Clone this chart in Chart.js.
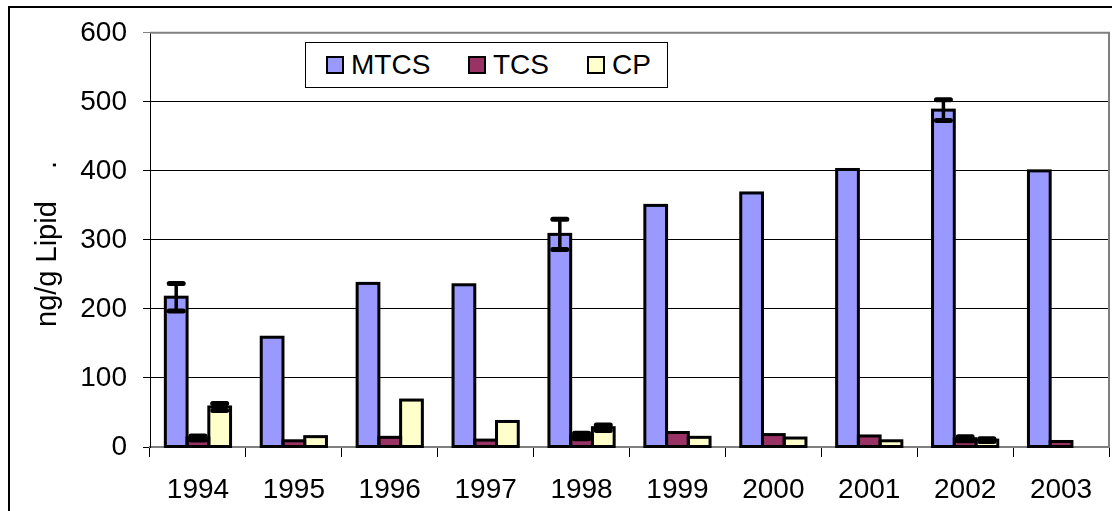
<!DOCTYPE html>
<html>
<head>
<meta charset="utf-8">
<script src="https://cdn.jsdelivr.net/npm/chart.js@4"></script>
<style>
    body { margin: 0; background: #fff; overflow: hidden; }
    #wrap { position: relative; width: 1112px; height: 511px; }
    #frame { position: absolute; left: 8px; top: 6px; width: 1200px; height: 600px; border: 2px solid #000; pointer-events: none; }
    #legend { position: absolute; left: 305px; top: 42px; width: 361px; height: 44px; border: 1px solid #000; background: #fff;
              font-family: "Liberation Sans", Arial, sans-serif; font-size: 28px; }
    .item { position: absolute; top: 0; height: 44px; display: flex; align-items: center; }
    .swatch { width: 14px; height: 14px; border: 2px solid #000; margin-right: 7px; }
</style>
</head>
<body>
<div id="wrap">
    <canvas id="chart"></canvas>
    <div id="frame"></div>
    <div id="legend"></div>
</div>
<script>
// Chart data
const years = ['1994', '1995', '1996', '1997', '1998', '1999', '2000', '2001', '2002', '2003'];
const mtcs = [217, 159, 237, 235, 308, 350, 368, 402, 488, 400];
const tcs = [13, 9, 14, 10, 16, 21, 18, 16, 12, 8];
const cp = [58, 15, 68, 37, 28, 14, 13, 9, 10, null];
const mtcsErr = [20, 0, 0, 0, 22, 0, 0, 0, 15, 0];
const tcsErr = [3, 0, 0, 0, 4, 0, 0, 0, 3, 0];
const cpErr = [5, 0, 0, 0, 4, 0, 0, 0, 2, 0];
const yTicks = [0, 100, 200, 300, 400, 500, 600];

const FONT = '"Liberation Sans", Arial, sans-serif';

// Bar outlines, stroked around each bar element so neighbours share one edge
const barOutline = {
    id: 'barOutline',
    afterDatasetsDraw(chart) {
        const ctx = chart.ctx;
        ctx.save();
        ctx.strokeStyle = '#000';
        ctx.lineWidth = 3;
        ctx.lineJoin = 'miter';
        chart.data.datasets.forEach((ds, di) => {
            chart.getDatasetMeta(di).data.forEach((bar, i) => {
                if (ds.data[i] == null) return;
                const p = bar.getProps(['x', 'y', 'width', 'base'], true);
                ctx.strokeRect(p.x - p.width / 2, p.y, p.width, p.base - p.y);
            });
        });
        ctx.restore();
    }
};

// Error bars drawn from the err arrays through the y scale
const errorBars = {
    id: 'errorBars',
    afterDatasetsDraw(chart) {
        const ctx = chart.ctx;
        const yScale = chart.scales.y;
        chart.data.datasets.forEach((ds, di) => {
            const meta = chart.getDatasetMeta(di);
            ds.err.forEach((e, i) => {
                if (!e || ds.data[i] == null) return;
                const x = meta.data[i].x;
                const yTop = yScale.getPixelForValue(ds.data[i] + e);
                const yBot = yScale.getPixelForValue(ds.data[i] - e);
                ctx.save();
                ctx.strokeStyle = '#000';
                ctx.lineCap = 'round';
                ctx.lineWidth = 3.5;
                ctx.beginPath();
                ctx.moveTo(x, yTop);
                ctx.lineTo(x, yBot);
                ctx.stroke();
                ctx.lineWidth = 5;
                ctx.beginPath();
                ctx.moveTo(x - 7, yTop);
                ctx.lineTo(x + 7, yTop);
                ctx.moveTo(x - 7, yBot);
                ctx.lineTo(x + 7, yBot);
                ctx.stroke();
                ctx.restore();
            });
        });
    }
};

// Gray plot border on the top and right side
const plotBorder = {
    id: 'plotBorder',
    afterDraw(chart) {
        const {ctx, chartArea: a} = chart;
        ctx.save();
        ctx.strokeStyle = '#808080';
        ctx.lineWidth = 2;
        ctx.beginPath();
        ctx.moveTo(a.left, a.top);
        ctx.lineTo(a.right, a.top);
        ctx.lineTo(a.right, a.bottom);
        ctx.stroke();
        ctx.restore();
    }
};

const datasets = [
    { label: 'MTCS', data: mtcs, err: mtcsErr, backgroundColor: '#9999FF' },
    { label: 'TCS', data: tcs, err: tcsErr, backgroundColor: '#993366' },
    { label: 'CP', data: cp, err: cpErr, backgroundColor: '#FFFFCC' }
];
datasets.forEach(d => {
    d.borderWidth = 0;
    d.categoryPercentage = 0.68;
    d.barPercentage = 1.0;
});

new Chart(document.getElementById('chart'), {
    type: 'bar',
    data: { labels: years, datasets: datasets },
    options: {
        responsive: true,
        maintainAspectRatio: false,
        animation: false,
        layout: { padding: { top: 32, right: 3, left: 0, bottom: 0 } },
        plugins: {
            legend: { display: false },
            tooltip: { enabled: false }
        },
        scales: {
            x: {
                afterFit: s => { s.height = 64; },
                grid: { drawOnChartArea: false, offset: true, tickLength: 10, color: '#000' },
                border: { color: '#808080', width: 2 },
                ticks: { color: '#000', padding: 16, font: { family: FONT, size: 28 } }
            },
            y: {
                min: 0,
                max: 600,
                afterFit: s => { s.width = 150; },
                afterBuildTicks: s => { s.ticks = yTicks.map(v => ({ value: v })); },
                grid: { color: c => c.tick && c.tick.value === 600 ? '#808080' : '#000', tickLength: 7 },
                border: { color: '#000', width: 1 },
                ticks: { color: '#000', padding: 16, font: { family: FONT, size: 28 } },
                title: {
                    display: true,
                    text: 'ng/g Lipid    . ',
                    color: '#000',
                    padding: { top: 31 },
                    font: { family: FONT, size: 29 }
                }
            }
        }
    },
    plugins: [barOutline, errorBars, plotBorder]
});

// Legend box, built from the datasets
const legend = document.getElementById('legend');
const itemLeft = [20, 162, 281];
datasets.forEach((d, i) => {
    const item = document.createElement('div');
    item.className = 'item';
    item.style.left = itemLeft[i] + 'px';
    item.innerHTML = `<span class="swatch" style="background:${d.backgroundColor}"></span><span>${d.label}</span>`;
    legend.appendChild(item);
});
</script>
</body>
</html>
